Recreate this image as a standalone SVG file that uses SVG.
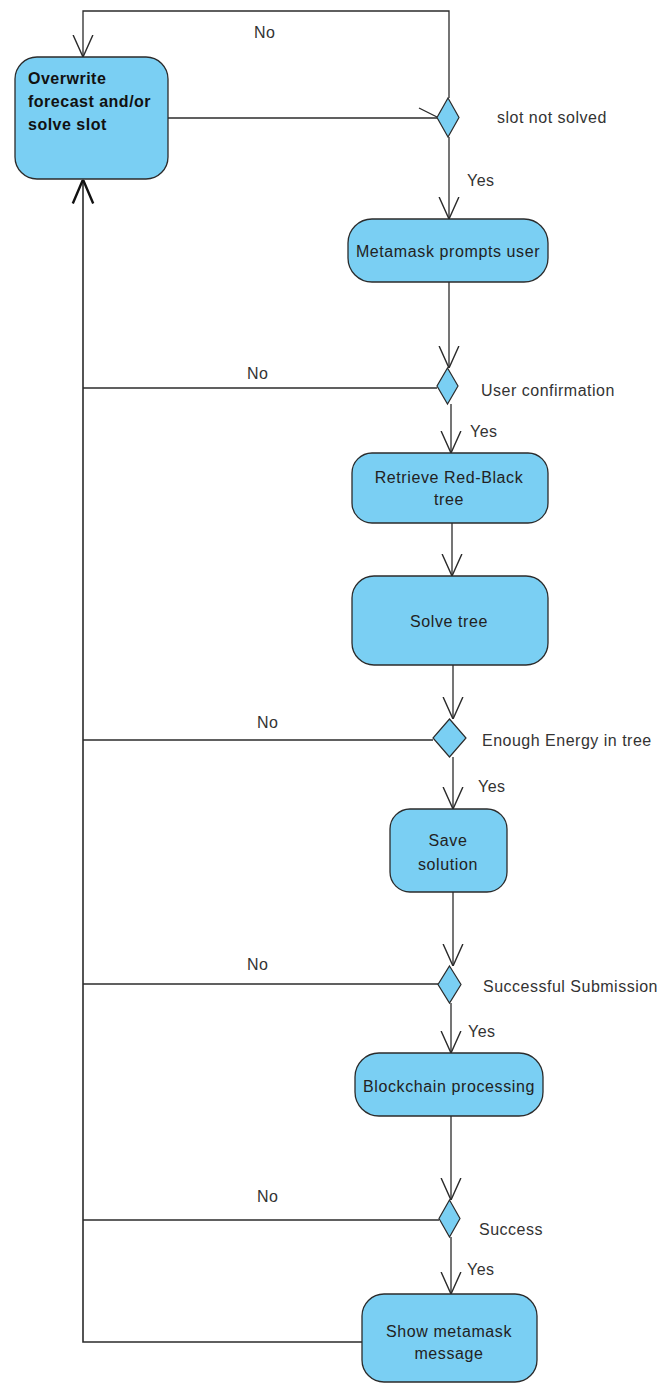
<svg xmlns="http://www.w3.org/2000/svg" width="660" height="1383" viewBox="0 0 660 1383">
<defs>
<style>
.node{fill:#7acff3;stroke:#2b2b2b;stroke-width:1.3}
.dec{fill:#7acff3;stroke:#2b2b2b;stroke-width:1.2}
.edge{fill:none;stroke:#2b2b2b;stroke-width:1.3}
.nt{font-family:"Liberation Sans",Arial,sans-serif;font-size:16px;fill:#222;text-anchor:middle;letter-spacing:0.6px}
.bt{font-family:"Liberation Sans",Arial,sans-serif;font-size:16px;font-weight:bold;fill:#111;letter-spacing:0.5px}
.lb{font-family:"Liberation Sans",Arial,sans-serif;font-size:16px;fill:#333;letter-spacing:0.5px}
</style>
<marker id="arr" markerUnits="userSpaceOnUse" markerWidth="22" markerHeight="22" viewBox="0 0 20 20" refX="20" refY="10" orient="auto">
<path d="M0,1 L20,10 L0,19" fill="none" stroke="#2b2b2b" stroke-width="1.3"/>
</marker>
<marker id="arrB" markerUnits="userSpaceOnUse" markerWidth="24" markerHeight="24" viewBox="0 0 20 20" refX="20" refY="10" orient="auto">
<path d="M0,1.5 L20,10 L0,18.5" fill="none" stroke="#111" stroke-width="2"/>
</marker>
</defs>
<rect width="660" height="1383" fill="#fff"/>
<g id="connectors">
<path class="edge" d="M168,118 H437"/>
<path class="edge" d="M419,108 L437,117"/>
<path class="edge" d="M449,98 V11 H83 V57" marker-end="url(#arr)"/>
<path class="edge" d="M449,137 V219" marker-end="url(#arr)"/>
<path class="edge" d="M449,282 V368" marker-end="url(#arr)"/>
<path class="edge" d="M437,388 H83"/>
<path class="edge" d="M451,404 V453" marker-end="url(#arr)"/>
<path class="edge" d="M452,523 V576" marker-end="url(#arr)"/>
<path class="edge" d="M453,665 V719" marker-end="url(#arr)"/>
<path class="edge" d="M433,740 H83"/>
<path class="edge" d="M453,757 V809" marker-end="url(#arr)"/>
<path class="edge" d="M453,892 V966" marker-end="url(#arr)"/>
<path class="edge" d="M438,984 H83"/>
<path class="edge" d="M451,1003 V1053" marker-end="url(#arr)"/>
<path class="edge" d="M451,1116 V1200" marker-end="url(#arr)"/>
<path class="edge" d="M439,1220 H83"/>
<path class="edge" d="M451,1237 V1294" marker-end="url(#arr)"/>
<path class="edge" d="M362,1342 H83 V179.5" marker-end="url(#arrB)" style="stroke-width:1.6"/>
</g>
<g id="labels">
<text class="lb" x="254" y="38">No</text>
<text class="lb" x="497" y="123">slot not solved</text>
<text class="lb" x="467" y="186">Yes</text>
<text class="lb" x="247" y="379">No</text>
<text class="lb" x="481" y="396">User confirmation</text>
<text class="lb" x="470" y="437">Yes</text>
<text class="lb" x="257" y="728">No</text>
<text class="lb" x="482" y="746">Enough Energy in tree</text>
<text class="lb" x="478" y="792">Yes</text>
<text class="lb" x="247" y="970">No</text>
<text class="lb" x="483" y="992">Successful Submission</text>
<text class="lb" x="468" y="1037">Yes</text>
<text class="lb" x="257" y="1202">No</text>
<text class="lb" x="479" y="1235">Success</text>
<text class="lb" x="467" y="1275">Yes</text>
</g>
<g id="n-overwrite">
<rect class="node" x="15" y="57" width="153" height="122" rx="22"/>
<text class="bt" x="28" y="84">Overwrite</text>
<text class="bt" x="28" y="107">forecast and/or</text>
<text class="bt" x="28" y="130">solve slot</text>
</g>
<g id="d-slot">
<polygon class="dec" points="448,98 459,117.5 448,137 437,117.5"/>
</g>
<g id="n-metamask">
<rect class="node" x="348" y="219" width="200" height="63" rx="24"/>
<text class="nt" x="448" y="257">Metamask prompts user</text>
</g>
<g id="d-user">
<polygon class="dec" points="447.5,368 458,386 447.5,404 437,386"/>
</g>
<g id="n-retrieve">
<rect class="node" x="352" y="453" width="196" height="70" rx="20"/>
<text class="nt" x="449" y="483">Retrieve Red-Black</text>
<text class="nt" x="449" y="505">tree</text>
</g>
<g id="n-solve">
<rect class="node" x="352" y="576" width="196" height="89" rx="22"/>
<text class="nt" x="449" y="627">Solve tree</text>
</g>
<g id="d-energy">
<polygon class="dec" points="449.5,719 466,738 449.5,757 433,738"/>
</g>
<g id="n-save">
<rect class="node" x="390" y="809" width="117" height="83" rx="20"/>
<text class="nt" x="448" y="846">Save</text>
<text class="nt" x="448" y="870">solution</text>
</g>
<g id="d-submission">
<polygon class="dec" points="449.5,966 461,984.5 449.5,1003 438,984.5"/>
</g>
<g id="n-blockchain">
<rect class="node" x="355" y="1053" width="188" height="63" rx="24"/>
<text class="nt" x="449" y="1092">Blockchain processing</text>
</g>
<g id="d-success">
<polygon class="dec" points="449.5,1200 460,1218.5 449.5,1237 439,1218.5"/>
</g>
<g id="n-show">
<rect class="node" x="362" y="1294" width="175" height="88" rx="22"/>
<text class="nt" x="449" y="1337">Show metamask</text>
<text class="nt" x="449" y="1359">message</text>
</g>
</svg>
